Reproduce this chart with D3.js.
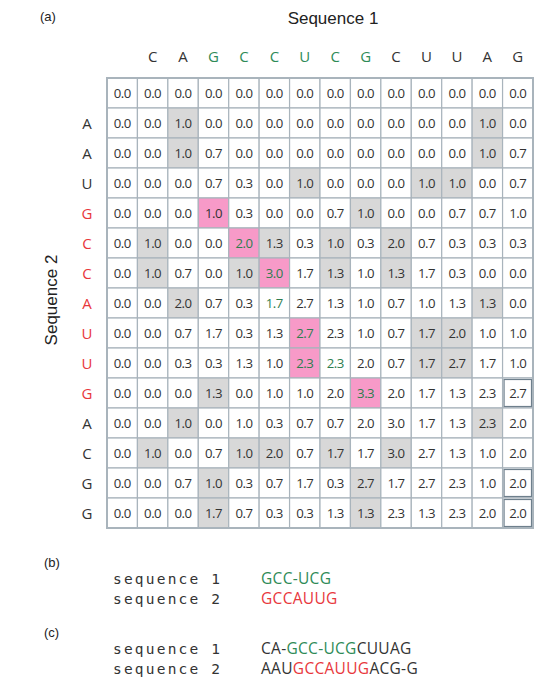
<!DOCTYPE html>
<html><head><meta charset="utf-8">
<script src="https://cdn.jsdelivr.net/npm/d3@7"></script>
<style>body{margin:0;background:#fff}</style></head>
<body><svg id="c" width="553" height="680"></svg>
<script>
const seq1 = ["", "C","A","G","C","C","U","C","G","C","U","U","A","G"];
const seq2 = ["", "A","A","U","G","C","C","A","U","U","G","A","C","G","G"];
const seq1Green = [3,4,5,6,7,8];
const seq2Red = [4,5,6,7,8,9,10];
const values = [
[0,0,0,0,0,0,0,0,0,0,0,0,0,0],
[0,0,1,0,0,0,0,0,0,0,0,0,1,0],
[0,0,1,.7,0,0,0,0,0,0,0,0,1,.7],
[0,0,0,.7,.3,0,1,0,0,0,1,1,0,.7],
[0,0,0,1,.3,0,0,.7,1,0,0,.7,.7,1],
[0,1,0,0,2,1.3,.3,1,.3,2,.7,.3,.3,.3],
[0,1,.7,0,1,3,1.7,1.3,1,1.3,1.7,.3,0,0],
[0,0,2,.7,.3,1.7,2.7,1.3,1,.7,1,1.3,1.3,0],
[0,0,.7,1.7,.3,1.3,2.7,2.3,1,.7,1.7,2,1,1],
[0,0,.3,.3,1.3,1,2.3,2.3,2,.7,1.7,2.7,1.7,1],
[0,0,0,1.3,0,1,1,2,3.3,2,1.7,1.3,2.3,2.7],
[0,0,1,0,1,.3,.7,.7,2,3,1.7,1.3,2.3,2],
[0,1,0,.7,1,2,.7,1.7,1.7,3,2.7,1.3,1,2],
[0,0,.7,1,.3,.7,1.7,.3,2.7,1.7,2.7,2.3,1,2],
[0,0,0,1.7,.7,.3,.3,1.3,1.3,2.3,1.3,2.3,2,2]];
const pinkCells = [[4,3],[5,4],[6,5],[8,6],[9,6],[10,8]];
const greenText = [[7,5],[9,7]];
const boxedCells = [[10,13],[13,13],[14,13]];

const svg = d3.select("#c");
const x = d3.scaleBand().domain(d3.range(14)).range([107,533]);
const y = d3.scaleBand().domain(d3.range(15)).range([78,528]);
const key = (r,c)=>r+","+c;
const pinkSet = new Set(pinkCells.map(d=>key(...d)));
const greenSet = new Set(greenText.map(d=>key(...d)));
const boxSet = new Set(boxedCells.map(d=>key(...d)));
const cells = [];
values.forEach((row,r)=>row.forEach((v,c)=>{
  const k = key(r,c);
  let fill = "#fff";
  if (pinkSet.has(k)) fill = "#f79ac8";
  else if (r>0 && c>0 && c<13 && seq1[c]===seq2[r]) fill = "#d8d8d8";
  cells.push({r,c,v,fill,green:greenSet.has(k)||pinkSet.has(k)&&v>=2,box:boxSet.has(k)});
}));
const g = svg.append("g");
g.selectAll("rect.cell").data(cells).join("rect").attr("class","cell")
 .attr("x",d=>x(d.c)).attr("y",d=>y(d.r)).attr("width",x.bandwidth()).attr("height",y.bandwidth())
 .attr("fill",d=>d.fill).attr("stroke","#a9b4bc").attr("stroke-width",1.2);
g.selectAll("rect.box").data(cells.filter(d=>d.box)).join("rect")
 .attr("x",d=>x(d.c)+1.5).attr("y",d=>y(d.r)+1.5).attr("width",x.bandwidth()-3).attr("height",y.bandwidth()-3)
 .attr("fill","none").attr("stroke","#6e7f8c").attr("stroke-width",1.2);
g.selectAll("text.v").data(cells).join("text")
 .attr("x",d=>x(d.c)+x.bandwidth()/2).attr("y",d=>y(d.r)+y.bandwidth()/2+4.8)
 .attr("text-anchor","middle").attr("font-family","Open Sans, sans-serif").attr("font-size",13.2)
 .attr("letter-spacing",-0.5)
 .attr("fill",d=>d.green?"#2e7d4f":"#333").text(d=>d.v.toFixed(1));
g.append("rect").attr("x",107).attr("y",78).attr("width",426).attr("height",450).attr("fill","none").attr("stroke","#a9b4bc").attr("stroke-width",2);

svg.selectAll("text.s1").data(seq1.slice(1)).join("text")
 .attr("x",(d,i)=>x(i+1)+x.bandwidth()/2).attr("y",62).attr("text-anchor","middle")
 .attr("font-family","Open Sans, sans-serif").attr("font-size",15)
 .attr("fill",(d,i)=>seq1Green.includes(i+1)?"#2e8b57":"#333").text(d=>d);
svg.selectAll("text.s2").data(seq2.slice(1)).join("text")
 .attr("x",87).attr("y",(d,i)=>y(i+1)+y.bandwidth()/2+5.5).attr("text-anchor","middle")
 .attr("font-family","Open Sans, sans-serif").attr("font-size",15)
 .attr("fill",(d,i)=>seq2Red.includes(i+1)?"#e8373c":"#333").text(d=>d);

const lab = (t,xx,yy)=>svg.append("text").attr("x",xx).attr("y",yy).attr("font-family","Liberation Sans, Arial, sans-serif").attr("font-size",13).attr("fill","#222").text(t);
lab("(a)",40,21); lab("(b)",44,567); lab("(c)",44,637);
svg.append("text").attr("x",333).attr("y",24).attr("text-anchor","middle").attr("font-family","Liberation Sans, Arial, sans-serif").attr("font-size",17).attr("fill","#222").text("Sequence 1");
svg.append("text").attr("transform","translate(57,300) rotate(-90)").attr("text-anchor","middle").attr("font-family","Liberation Sans, Arial, sans-serif").attr("font-size",17).attr("fill","#222").text("Sequence 2");

const alignLines = [
 {y:584, label:"sequence 1", parts:[["GCC-UCG","#2e8b57"]]},
 {y:604, label:"sequence 2", parts:[["GCCAUUG","#e8373c"]]},
 {y:654, label:"sequence 1", parts:[["CA-","#333"],["GCC-UCG","#2e8b57"],["CUUAG","#333"]]},
 {y:674, label:"sequence 2", parts:[["AAU","#333"],["GCCAUUG","#e8373c"],["ACG-G","#333"]]}];
alignLines.forEach(l=>{
  svg.append("text").attr("x",113).attr("y",l.y).attr("font-family","DejaVu Sans Mono, monospace").attr("font-size",14.5).attr("letter-spacing",2.2).attr("fill","#333").text(l.label);
  const t = svg.append("text").attr("x",261).attr("y",l.y).attr("font-family","Open Sans, sans-serif").attr("font-size",15.5).attr("letter-spacing",0.3);
  l.parts.forEach(p=>t.append("tspan").attr("fill",p[1]).text(p[0]));
});
</script></body></html>
